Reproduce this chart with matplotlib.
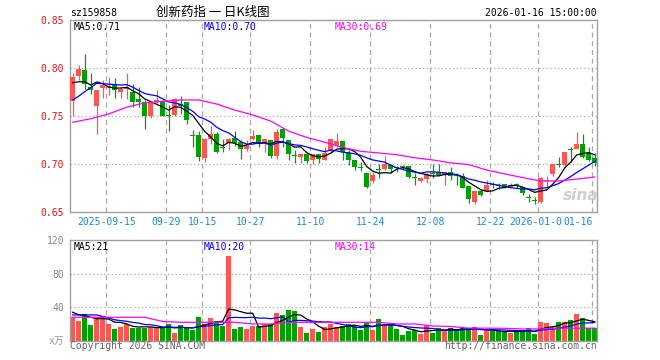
import numpy as np
import pandas as pd
import matplotlib
matplotlib.use("Agg")
import matplotlib.pyplot as plt

plt.rcParams['font.family'] = ['DejaVu Sans Mono', 'Noto Sans CJK SC']

# ---------------- data ----------------
opens = [0.766, 0.7924, 0.7983, 0.7806, 0.7611, 0.7795, 0.7800, 0.7823, 0.7757, 0.778,
         0.7757, 0.768, 0.7653, 0.7507, 0.7653, 0.7646, 0.7503, 0.7514, 0.7625, 0.7646,
         0.7297, 0.7306, 0.7069, 0.726, 0.7316, 0.7167, 0.7219, 0.7271, 0.7229, 0.716,
         0.726, 0.7306, 0.7208, 0.7253, 0.7087, 0.7368, 0.7253, 0.7087, 0.708, 0.7108,
         0.7045, 0.7108, 0.7045, 0.7142, 0.7201, 0.7247, 0.7121, 0.7045, 0.6969, 0.6906,
         0.683, 0.6941, 0.6951, 0.6993, 0.697, 0.698, 0.6983, 0.6856, 0.683, 0.6847,
         0.6906, 0.6917, 0.6889, 0.6924, 0.6878, 0.6878, 0.6774, 0.6604, 0.6726, 0.6722,
         0.6788, 0.6778, 0.6792, 0.6767, 0.6788, 0.6767, 0.6653, 0.6625, 0.6611, 0.6823,
         0.6896, 0.70, 0.6993, 0.7156, 0.716, 0.7212, 0.7115, 0.707]
highs = [0.7951, 0.8035, 0.8149, 0.7951, 0.7774, 0.7882, 0.7910, 0.790, 0.7802, 0.7951,
         0.784, 0.7806, 0.767, 0.7653, 0.7774, 0.767, 0.7618, 0.7694, 0.771, 0.7653,
         0.7358, 0.7347, 0.7271, 0.740, 0.734, 0.726, 0.7278, 0.7347, 0.7253, 0.7253,
         0.7358, 0.7306, 0.726, 0.7253, 0.7368, 0.7368, 0.7253, 0.7149, 0.7108, 0.7108,
         0.7108, 0.7108, 0.7184, 0.726, 0.7323, 0.7247, 0.7149, 0.7045, 0.7028, 0.6906,
         0.6924, 0.70, 0.7087, 0.70, 0.6986, 0.6997, 0.6983, 0.6906, 0.6868, 0.6906,
         0.70, 0.70, 0.6917, 0.6976, 0.6906, 0.6906, 0.6774, 0.6726, 0.674, 0.6837,
         0.682, 0.681, 0.6792, 0.6802, 0.681, 0.6767, 0.6688, 0.6663, 0.6872, 0.6878,
         0.70, 0.7073, 0.7125, 0.7184, 0.734, 0.7316, 0.7177, 0.7122]
lows = [0.7507, 0.7878, 0.7788, 0.7733, 0.7319, 0.7694, 0.7720, 0.7694, 0.7694, 0.7677,
        0.760, 0.7594, 0.7368, 0.7486, 0.764, 0.7507, 0.735, 0.7507, 0.7525, 0.7424,
        0.7184, 0.7038, 0.7028, 0.7208, 0.7122, 0.7132, 0.7149, 0.719, 0.7056, 0.7139,
        0.7253, 0.7184, 0.7132, 0.707, 0.7052, 0.7184, 0.7045, 0.7017, 0.7017, 0.701,
        0.70, 0.701, 0.7045, 0.7122, 0.7184, 0.7045, 0.6993, 0.6941, 0.6934, 0.6757,
        0.6802, 0.6861, 0.6941, 0.6913, 0.6917, 0.6937, 0.6854, 0.6785, 0.6819, 0.6802,
        0.6854, 0.6878, 0.6785, 0.6837, 0.6785, 0.6750, 0.6601, 0.6587, 0.6674, 0.6722,
        0.675, 0.6743, 0.675, 0.675, 0.675, 0.6677, 0.6611, 0.6583, 0.6601, 0.6767,
        0.6882, 0.6976, 0.6976, 0.7028, 0.716, 0.707, 0.7035, 0.6983]
closes = [0.791, 0.7993, 0.7833, 0.7778, 0.7774, 0.7823, 0.7820, 0.7771, 0.7785, 0.7809,
          0.7653, 0.7653, 0.7507, 0.7642, 0.767, 0.7507, 0.750, 0.768, 0.761, 0.7465,
          0.7295, 0.708, 0.7267, 0.7316, 0.7132, 0.7165, 0.7264, 0.7219, 0.716, 0.7201,
          0.7295, 0.7212, 0.726, 0.7087, 0.734, 0.7271, 0.7108, 0.7085, 0.7108, 0.7038,
          0.7108, 0.7052, 0.7121, 0.726, 0.7247, 0.7132, 0.7045, 0.6976, 0.6966, 0.6767,
          0.6889, 0.6938, 0.70, 0.6951, 0.6966, 0.6976, 0.6872, 0.6854, 0.6861, 0.6896,
          0.6903, 0.6889, 0.6917, 0.6878, 0.6875, 0.6757, 0.6639, 0.6726, 0.6681, 0.6785,
          0.6785, 0.6775, 0.6767, 0.6785, 0.6785, 0.6698, 0.665, 0.6622, 0.6854, 0.6837,
          0.70, 0.6997, 0.7125, 0.7153, 0.7212, 0.7075, 0.7045, 0.701]
volumes = [28.8, 23.6, 32, 18.8, 28, 30, 20, 14, 16.8, 20,
           15.2, 15.6, 15.6, 16, 16, 14.8, 20, 9.6, 18.8, 14.8,
           12.8, 28.4, 19.6, 27.2, 23.6, 17.6, 101.6, 14, 16.8, 14,
           18, 17.6, 20, 20, 33.2, 30.8, 36.8, 35.6, 16.8, 9.6,
           14, 10.8, 16, 20, 16.4, 17.6, 20, 18.8, 12.8, 21.6,
           12.8, 26, 20, 18.8, 14, 6.8, 11.6, 12.8, 8, 18.8,
           9.6, 14.8, 11.6, 14.8, 14, 14.8, 14.8, 16, 6.8, 13.6,
           11.6, 11.6, 10, 9.6, 11.6, 12.4, 14.8, 8, 22.4, 21.2,
           16.8, 22.4, 22.4, 24.8, 32, 27.2, 14.8, 14.8]

# moving-average values read from the chart where history is not visible
ma5_head = [0.785, 0.786, 0.786, 0.7826]
ma10_head = [0.767, 0.771, 0.7757, 0.780, 0.7844, 0.7840, 0.7835, 0.7830, 0.7826]
ma30_price = [0.7438, 0.7475, 0.7525, 0.7595, 0.7640, 0.7655, 0.7670, 0.7670, 0.7628, 0.7565,
              0.7514, 0.7450, 0.7345, 0.7280, 0.7230, 0.7175, 0.7135, 0.7118, 0.7100, 0.7068,
              0.7045, 0.7015, 0.6997, 0.6940, 0.6900, 0.6861, 0.6826, 0.6826, 0.6846, 0.6868]
vol_ma5_head = [34, 31, 30, 28]
vol_ma10_head = [30.8, 30.8, 30.8, 30.8, 30.8, 29, 27, 25, 24]
vol_ma30 = [28, 28, 28, 28, 28, 23, 22, 22, 22, 22,
            20, 20, 22, 22, 22, 22, 22, 22, 20, 20,
            17.6, 17, 15, 15, 14.8, 14, 14, 15, 15, 15]

tick_pos = [6, 16, 22, 30, 40, 50, 60, 70, 78, 87]
tick_labels = ['2025-09-15', '09-29', '10-15', '10-27', '11-10', '11-24',
               '12-08', '12-22', '2026-01-05', '01-16']
price_ticks = [0.65, 0.70, 0.75, 0.80, 0.85]
vol_ticks = [40, 80, 120]

# ---------------- styles ----------------
RED = '#ff5555'
GREEN = '#00a000'
FRAME = '#a0a0a0'
GRID = '#aaaaaa'
DATE_BLUE = '#1a88d8'
W, H = 660, 360

fig = plt.figure(figsize=(6.6, 3.6), dpi=100)
fig.patch.set_facecolor('white')
L, R = 70.3, 596.7
ax1 = fig.add_axes([L / W, 1 - 212.3 / H, (R - L) / W, 192 / H])
ax2 = fig.add_axes([L / W, 1 - 340.7 / H, (R - L) / W, 100.4 / H])

n = len(closes)
idx = np.arange(n)
xc = idx + 0.4
xmax = (R - L) / 6.0

o = np.array(opens); c = np.array(closes); h = np.array(highs); lo = np.array(lows)
up = c >= o
cols = [RED if u else GREEN for u in up]

for ax in (ax1, ax2):
    ax.set_xlim(0, xmax)
    for s in ax.spines.values():
        s.set_color(FRAME)
        s.set_linewidth(1.0)
    for p in tick_pos:
        ax.axvline(p, color=GRID, lw=0.9, ls=(0, (4, 3)), zorder=0)
    ax.tick_params(length=0)

# price panel
ax1.set_ylim(0.65, 0.85)
for yv in [0.70, 0.75, 0.80]:
    ax1.axhline(yv, color=GRID, lw=0.9, ls=(0, (1, 2)), zorder=0)
ax1.vlines(xc, lo, h, colors=cols, lw=0.9, zorder=2)
body = np.maximum(np.abs(c - o), 0.0011)
ax1.bar(xc, body, bottom=np.minimum(o, c), width=0.8, color=cols, lw=0, zorder=3)

cs = pd.Series(closes)
ma5 = cs.rolling(5).mean().to_numpy()
ma5[:4] = ma5_head
ma10 = cs.rolling(10).mean().to_numpy()
ma10[:9] = ma10_head
ax1.plot(xc, ma5, color='black', lw=0.9, zorder=4)
ax1.plot(xc, ma10, color='#0000ff', lw=0.9, zorder=4)
ax1.plot(np.arange(0, n, 3) + 0.4, ma30_price, color='#ff00ff', lw=0.9, zorder=4)

ax1.set_yticks(price_ticks)
ax1.set_yticklabels(['%.2f' % v for v in price_ticks], color='#ee1111', fontsize=7)
ax1.tick_params(axis='y', pad=4.5)
ax1.set_xticks([])
# date labels (last one kept inside the frame, drawn over its neighbour)
date_y = 0.65 - 9.6 / 960.0
for k, (p, lab) in enumerate(zip(tick_pos, tick_labels)):
    last = (k == len(tick_pos) - 1)
    ax1.text(p + (0.1 if last else 0.0), date_y, lab, fontsize=7, color=DATE_BLUE,
             ha='right' if last else 'center', va='center', clip_on=False,
             bbox=dict(facecolor='white', edgecolor='none', pad=0.2) if last else None)

# volume panel
ax2.set_ylim(0, 120)
for yv in [40, 80]:
    ax2.axhline(yv, color=GRID, lw=0.9, ls=(0, (1, 2)), zorder=0)
ax2.bar(idx + 0.4, volumes, width=0.8, color=cols, lw=0, zorder=2)
vs = pd.Series(volumes)
vma5 = vs.rolling(5).mean().to_numpy()
vma5[:4] = vol_ma5_head
vma10 = vs.rolling(10).mean().to_numpy()
vma10[:9] = vol_ma10_head
ax2.plot(xc, vma5, color='black', lw=0.9, zorder=4)
ax2.plot(xc, vma10, color='#0000ff', lw=0.9, zorder=4)
ax2.plot(np.arange(0, n, 3) + 0.4, vol_ma30, color='#ff00ff', lw=0.9, zorder=4)
ax2.set_yticks(vol_ticks)
ax2.set_yticklabels([str(v) for v in vol_ticks], color='#888888', fontsize=7)
ax2.tick_params(axis='y', pad=4.5)
ax2.set_xticks([])

# ---------------- texts ----------------
def ft(x, y, s, **kw):
    fig.text(x / W, 1 - y / H, s, **kw)

ft(70, 13.3, 'sz159858', fontsize=7, color='black', va='center', ha='left')
ft(213, 12.5, '创新药指 一 日K线图', fontsize=9, color='black', va='center', ha='center',
   family=['Noto Sans CJK SC', 'DejaVu Sans'])
ft(596.7, 13.3, '2026-01-16 15:00:00', fontsize=7, color='black', va='center', ha='right')

ft(74, 26.7, 'MA5:0.71', fontsize=7, color='black', va='center')
ft(204, 26.7, 'MA10:0.70', fontsize=7, color='#0000ff', va='center')
ft(334.7, 26.7, 'MA30:0.69', fontsize=7, color='#ff00ff', va='center')

ft(74, 246.7, 'MA5:21', fontsize=7, color='black', va='center')
ft(204, 246.7, 'MA10:20', fontsize=7, color='#0000ff', va='center')
ft(334.7, 246.7, 'MA30:14', fontsize=7, color='#ff00ff', va='center')

ft(64, 340.5, 'x万', fontsize=7, color='#999999', va='center', ha='right')
ft(70, 346, 'Copyright 2026 SINA.COM', fontsize=7, color='#666666', va='center', ha='left')
ft(596.7, 346, 'http://finance.sina.com.cn', fontsize=7, color='#666666', va='center', ha='right')

ft(581, 196, 'sina', fontsize=11, color='#cfcfcf', va='center', ha='center',
   fontweight='bold', style='italic', family=['DejaVu Sans'])

fig.savefig('out.png', dpi=100, facecolor='white')
